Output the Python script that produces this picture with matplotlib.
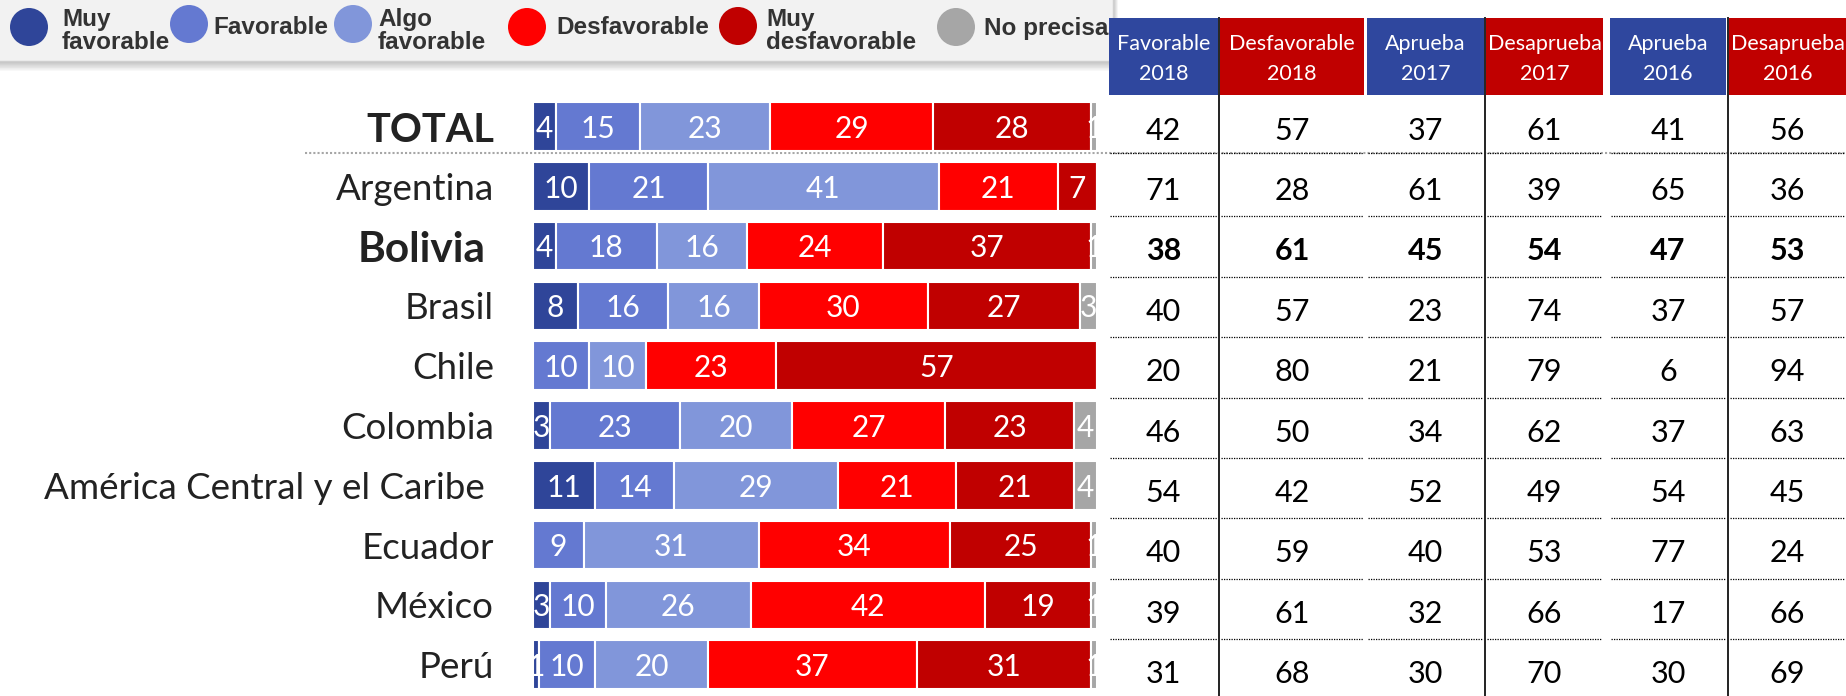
import matplotlib
matplotlib.use('Agg')
import matplotlib.pyplot as plt
from matplotlib.patches import Rectangle, Circle, FancyBboxPatch
import numpy as np

# ---------------- data ----------------
regions = ["TOTAL", "Argentina", "Bolivia", "Brasil", "Chile", "Colombia",
           "América Central y el Caribe", "Ecuador", "México", "Perú"]
bold_labels = ["TOTAL", "Bolivia"]
bold_table_rows = ["Bolivia"]

muy_favorable = [4, 10, 4, 8, 0, 3, 11, 0, 3, 1]
favorable = [15, 21, 18, 16, 10, 23, 14, 9, 10, 10]
algo_favorable = [23, 41, 16, 16, 10, 20, 29, 31, 26, 20]
desfavorable = [29, 21, 24, 30, 23, 27, 21, 34, 42, 37]
muy_desfavorable = [28, 7, 37, 27, 57, 23, 21, 25, 19, 31]
no_precisa = [1, 0, 1, 3, 0, 4, 4, 1, 1, 1]

legend_labels = ["Muy\nfavorable", "Favorable", "Algo\nfavorable",
                 "Desfavorable", "Muy\ndesfavorable", "No precisa"]

header_top = ["Favorable", "Desfavorable", "Aprueba", "Desaprueba", "Aprueba", "Desaprueba"]
header_year = ["2018", "2018", "2017", "2017", "2016", "2016"]
fav_2018 = [42, 71, 38, 40, 20, 46, 54, 40, 39, 31]
desfav_2018 = [57, 28, 61, 57, 80, 50, 42, 59, 61, 68]
aprueba_2017 = [37, 61, 45, 23, 21, 34, 52, 40, 32, 30]
desaprueba_2017 = [61, 39, 54, 74, 79, 62, 49, 53, 66, 70]
aprueba_2016 = [41, 65, 47, 37, 6, 37, 54, 77, 17, 30]
desaprueba_2016 = [56, 36, 53, 57, 94, 63, 45, 24, 66, 69]

# ---------------- style ----------------
C_MF, C_F, C_AF = '#2F4599', '#6479D1', '#8196DA'
C_D, C_MD, C_NP = '#FF0000', '#C00000', '#A6A6A6'
seg_colors = [C_MF, C_F, C_AF, C_D, C_MD, C_NP]
head_colors = ['#2F479E', '#C00000'] * 3

W, H = 1846, 696
FONT = 'Lato'
LEG_FONT = 'Liberation Sans'

fig = plt.figure(figsize=(W / 100, H / 100), dpi=100)
fig.patch.set_facecolor('white')

# overlay axes in pixel coordinates (y down)
ov = fig.add_axes([0, 0, 1, 1])
ov.set_xlim(0, W)
ov.set_ylim(H, 0)
ov.axis('off')

# ---------------- legend box ----------------
for k in range(8):
    ov.add_patch(FancyBboxPatch((-10, -10), 1113 + 10 + k * 0.7, 61 + 10 + k * 1.4,
                                boxstyle='round,pad=0,rounding_size=5',
                                fc='black', ec='none', alpha=0.035))
ov.add_patch(FancyBboxPatch((-10, -10), 1123, 71,
                            boxstyle='round,pad=0,rounding_size=5',
                            fc='#F2F2F2', ec='#E0E0E0', lw=0.6))

leg_cx = [29, 189, 353, 527, 738, 956]
leg_cy = [27, 24, 24, 27, 26, 27]
leg_tx = [62, 213, 378, 556, 766, 984]
for cx, cy, tx, lab, col in zip(leg_cx, leg_cy, leg_tx, legend_labels, seg_colors):
    ov.add_patch(Circle((cx, cy), 19, fc=col, ec='none'))
    ty = 31 if '\n' in lab else 28
    ov.text(tx, ty, lab, fontsize=17.5, fontweight='bold', family=LEG_FONT,
            color='#333333', ha='left', va='center', linespacing=0.95)

# ---------------- stacked bars ----------------
n = len(regions)
bar_c0, bar_pitch = 126.5, 59.8
bar_x0, bar_x1 = 533, 1097
top_px = bar_c0 - bar_pitch / 2
bot_px = bar_c0 + (n - 0.5) * bar_pitch
ax = fig.add_axes([bar_x0 / W, 1 - bot_px / H, (bar_x1 - bar_x0) / W, (bot_px - top_px) / H])
ax.set_xlim(0, 100)
ax.set_ylim(n - 0.5, -0.5)
ax.axis('off')
ax.patch.set_alpha(0)

vals = np.array([muy_favorable, favorable, algo_favorable,
                 desfavorable, muy_desfavorable, no_precisa], dtype=float)
shares = vals / vals.sum(axis=0) * 100
ypos = np.arange(n)
left = np.zeros(n)
for k in range(vals.shape[0]):
    ax.barh(ypos, shares[k], left=left, height=0.815, color=seg_colors[k],
            edgecolor='white', linewidth=1.5)
    for i in range(n):
        if vals[k, i] > 0:
            ax.text(left[i] + shares[k, i] / 2, i + 0.04, f'{int(vals[k, i])}',
                    ha='center', va='center', color='white', fontsize=21.5,
                    family=FONT, clip_on=True)
    left += shares[k]

# region labels
label_shift = {"Bolivia": -8, "América Central y el Caribe": -9}
label_size = {"TOTAL": 28.5, "Bolivia": 30.5}
for i, name in enumerate(regions):
    cy = bar_c0 + i * bar_pitch
    bold = name in bold_labels
    ov.text(494 + label_shift.get(name, 0), cy + (3.5 if bold else 3), name,
            fontsize=label_size.get(name, 26.5),
            fontweight='bold' if bold else 'normal', family=FONT,
            color='#222222', ha='right', va='center')

# gray dotted separator under TOTAL
ov.plot([305, W], [153, 153], color='#A6A6A6', lw=1.5, ls=(0, (1, 1)),
        solid_capstyle='butt')

# ---------------- table ----------------
table_cols = [fav_2018, desfav_2018, aprueba_2017, desaprueba_2017, aprueba_2016, desaprueba_2016]
col_edges = [(1109, 1218), (1220, 1364), (1367, 1484), (1486, 1603), (1610, 1726), (1729, 1846)]
tab_c0, tab_pitch = 128, 60.4

for c, (x0, x1) in enumerate(col_edges):
    cx = (x0 + x1) / 2
    ov.add_patch(Rectangle((x0, 18), x1 - x0, 77, fc=head_colors[c], ec='none'))
    ov.text(cx, 42 + 2, header_top[c], color='white', fontsize=15.5, family=FONT,
            ha='center', va='center')
    ov.text(cx, 72 + 2, header_year[c], color='white', fontsize=15.5, family=FONT,
            ha='center', va='center')
    for i, v in enumerate(table_cols[c]):
        cy = tab_c0 + i * tab_pitch
        ov.text(cx, cy + 2.5, str(v), fontsize=22, family=FONT, color='black',
                fontweight='bold' if regions[i] in bold_table_rows else 'normal',
                ha='center', va='center')
        if i < n - 1:
            sy = cy + (25 if i == 0 else 28)
            ov.plot([x0 + 1, x1 - 1], [sy, sy], color='black', lw=0.9,
                    ls=(0, (1, 1)), solid_capstyle='butt')

for xv in [1219, 1485, 1727.5]:
    ov.plot([xv, xv], [18, H], color='#222222', lw=1.4)

fig.savefig('out.png', dpi=100)
plt.close(fig)
